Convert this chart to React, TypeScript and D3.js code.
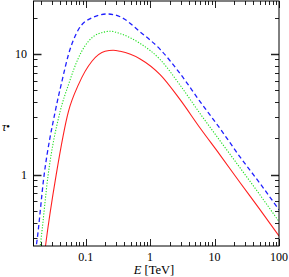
import * as React from "react";
import * as d3 from "d3";

// energies in TeV, optical depth tau
const redEnergy = [0.0225, 0.0238, 0.0349, 0.0541, 0.0773, 0.125, 0.2, 0.267, 0.343, 0.7, 1.43, 2.92, 5.96, 12.2, 24.8, 50.7, 100];
const redTau = [0.2, 0.256, 1.0, 3.34, 5.56, 8.68, 10.5, 10.7, 10.5, 9.08, 6.73, 4.17, 2.43, 1.45, 0.859, 0.512, 0.31];

const greenEnergy = [0.0185, 0.0197, 0.0262, 0.0402, 0.0541, 0.0773, 0.125, 0.2, 0.24, 0.343, 0.7, 1.43, 2.92, 5.96, 12.2, 24.8, 50.7, 100];
const greenTau = [0.2, 0.256, 1.0, 3.34, 5.56, 9.27, 13.6, 15.2, 15.4, 14.7, 12.2, 8.97, 5.5, 3.2, 1.9, 1.14, 0.678, 0.408];

const blueEnergy = [0.0158, 0.0171, 0.0227, 0.0337, 0.0428, 0.0541, 0.0773, 0.125, 0.215, 0.343, 0.7, 1.43, 2.92, 5.96, 12.2, 24.8, 50.7, 100];
const blueTau = [0.2, 0.256, 1.0, 3.34, 5.92, 9.87, 15.9, 19.9, 21.4, 20.3, 15.2, 10.9, 6.86, 4.02, 2.4, 1.4, 0.845, 0.51];

const xTickLabels = ["0.1", "1", "10", "100"];
const yTickLabels = ["1", "10"];

const width = 289;
const height = 277;
const left = 33.5;
const right = 279;
const top = 1;
const bottom = 246;

function logTicks(lo: number, hi: number) {
  const out: { v: number; major: boolean }[] = [];
  for (let e = -3; e <= 3; e++) {
    for (let m = 1; m <= 9; m++) {
      const v = m * Math.pow(10, e);
      if (v >= lo * 0.999 && v <= hi * 1.001) out.push({ v, major: m === 1 });
    }
  }
  return out;
}

export default function App() {
  const xScale = d3.scaleLog().domain([0.0155, 100]).range([left, right]);
  const yScale = d3.scaleLog().domain([0.256, 27.4]).range([bottom, top]);

  const series = [
    { e: redEnergy, t: redTau, color: "#ff2020", dash: undefined, w: 1.1 },
    { e: greenEnergy, t: greenTau, color: "#20e020", dash: "1.2 1.6", w: 1.1 },
    { e: blueEnergy, t: blueTau, color: "#2020ff", dash: "4.5 3", w: 1.3 },
  ];

  const line = d3
    .line<[number, number]>()
    .x((d) => xScale(d[0]))
    .y((d) => yScale(d[1]))
    .curve(d3.curveMonotoneX);

  const xTicks = logTicks(0.0155, 100);
  const yTicks = logTicks(0.256, 27.4);
  const font = "'Liberation Serif', 'DejaVu Serif', serif";

  return (
    <svg
      width={width}
      height={height}
      style={{ position: "absolute", left: 0, top: 0, background: "white" }}
    >
      <defs>
        <clipPath id="plot">
          <rect x={left} y={top} width={right - left} height={bottom - top} />
        </clipPath>
      </defs>
      <g clipPath="url(#plot)">
        {series.map((s, i) => (
          <path
            key={i}
            d={line(s.e.map((v, j) => [v, s.t[j]] as [number, number])) ?? ""}
            fill="none"
            stroke={s.color}
            strokeWidth={s.w}
            strokeDasharray={s.dash}
          />
        ))}
      </g>
      {/* ticks on all four sides */}
      <g stroke="#222" strokeWidth={1}>
        {xTicks.map((t, i) => {
          const x = Math.round(xScale(t.v)) + 0.5;
          const len = t.major ? 7 : 4;
          return (
            <g key={i}>
              <line x1={x} x2={x} y1={bottom} y2={bottom - len} />
              <line x1={x} x2={x} y1={top} y2={top + len} />
            </g>
          );
        })}
        {yTicks.map((t, i) => {
          const y = Math.round(yScale(t.v)) + 0.5;
          const len = t.major ? 8 : 4;
          return (
            <g key={i}>
              <line x1={left} x2={left + len} y1={y} y2={y} strokeWidth={t.major ? 1.5 : 1} />
              <line x1={right} x2={right - len} y1={y} y2={y} strokeWidth={t.major ? 1.5 : 1} />
            </g>
          );
        })}
      </g>
      <rect
        x={left}
        y={top}
        width={right - left}
        height={bottom - top}
        fill="none"
        stroke="#000"
        strokeWidth={1}
      />
      <g fontFamily={font} fontSize={12} fill="#000">
        {xTickLabels.map((l) => (
          <text key={l} x={xScale(+l)} y={261} textAnchor="middle">
            {l}
          </text>
        ))}
        {yTickLabels.map((l) => (
          <text key={l} x={27} y={yScale(+l) + 4.5} textAnchor="end">
            {l}
          </text>
        ))}
        <text x={154} y={273.5} textAnchor="middle" fontSize={12.5}>
          <tspan fontStyle="italic">E</tspan> [TeV]
        </text>
        <text x={2} y={131} fontSize={12}>
          <tspan fontStyle="italic">τ</tspan>
          <tspan fontSize={6} dy={-3}>●</tspan>
        </text>
      </g>
    </svg>
  );
}
